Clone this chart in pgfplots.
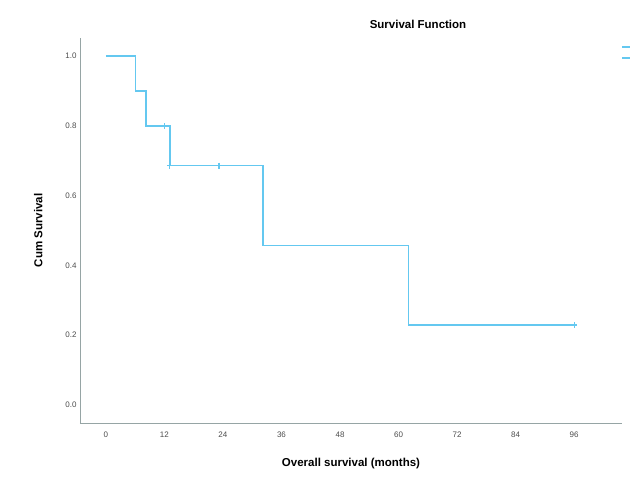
\documentclass[border=0pt]{standalone}
\usepackage{pgfplots}
\pgfplotsset{compat=1.18}
\usepackage{fontspec}
\setmainfont{Liberation Sans}
\definecolor{kmblue}{RGB}{100,200,240}
\definecolor{axgray}{RGB}{150,165,165}
\begin{document}
\begin{tikzpicture}[x=1pt,y=1pt]
\useasboundingbox (-80,-68) rectangle (550,423);
\begin{axis}[
  at={(0,0)}, anchor=south west,
  scale only axis, width=542pt, height=385pt,
  xmin=-5.3, xmax=105.8, ymin=-0.052, ymax=1.052,
  axis x line=bottom, axis y line=left,
  axis line style={axgray, line width=0.8pt, -},
  xtick={0,12,...,96}, ytick={0,0.2,...,1.0},
  major tick length=0pt,
  tick label style={font=\fontsize{8}{9}\selectfont, text=black!70},
  xticklabel style={yshift=-5pt},
  yticklabel style={/pgf/number format/.cd, fixed, fixed zerofill, precision=1},
  /pgf/number format/assume math mode=true,
  xlabel={\textbf{Overall survival (months)}},
  ylabel={\textbf{Cum Survival}},
  label style={font=\fontsize{11.5}{13}\selectfont},
  xlabel style={yshift=-14pt},
  ylabel style={yshift=16pt},
  clip=false,
]
\addplot[kmblue, line width=1.6pt, const plot, mark=none] coordinates {
 (0,1.0) (6.1,0.9) (8.2,0.8) (13.1,0.686) (32.2,0.457) (62.0,0.229) (96,0.229)
};
\addplot[only marks, mark=+, mark size=3pt, draw=kmblue, line width=1.2pt] coordinates {
 (12.1,0.8) (13.1,0.686) (23.2,0.686) (96,0.229)
};
\end{axis}
\node[font=\fontsize{11.5}{13}\selectfont\bfseries] at (338,399) {Survival Function};
\draw[kmblue, line width=1.2pt] (542,376) -- (550,376);
\draw[kmblue, line width=1.2pt] (542,365) -- (550,365);
\end{tikzpicture}
\end{document}
